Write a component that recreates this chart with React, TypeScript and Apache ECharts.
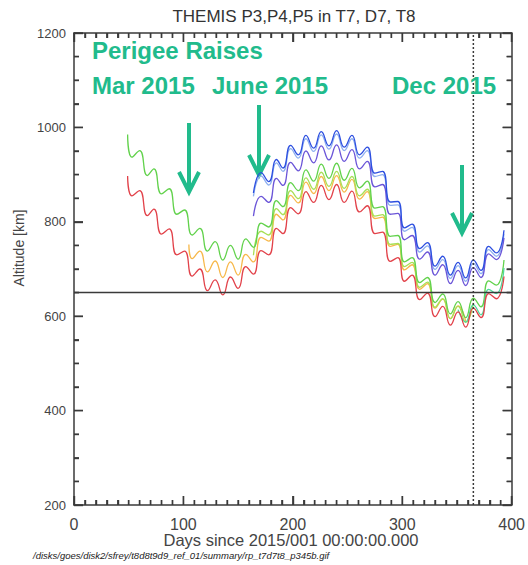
import React, { useEffect, useRef } from "react";
import * as echarts from "echarts";

// Perigee altitude of the THEMIS probes through 2015 (day of year, km)
const xTicks = [0, 100, 200, 300, 400];
const yTicks = [200, 400, 600, 800, 1000, 1200];
const xMinorStep = 10;
const yMinorStep = 50;

const redAlt: [number, number][] = [
  [49, 897], [53, 855], [60, 866], [67, 813], [73, 827], [80, 774], [87, 785], [94, 730], [101, 738],
  [108, 685], [115, 700], [122, 654], [129, 677], [136, 645], [143, 683], [150, 659], [157, 705],
  [164, 689], [171, 739], [178, 730], [185, 786], [191, 775], [198, 830], [205, 817], [212, 864],
  [219, 841], [226, 877], [233, 847], [240, 879], [247, 841], [254, 865], [261, 821], [268, 834],
  [275, 775], [282, 778], [289, 716], [296, 724], [302, 674], [309, 687], [316, 635], [323, 649],
  [330, 599], [337, 621], [344, 581], [351, 609], [358, 577], [365, 617], [372, 597], [379, 648],
  [386, 637], [393, 684],
];

const greenAlt: [number, number][] = [
  [49, 985], [53, 937], [60, 951], [67, 898], [73, 912], [80, 859], [87, 870], [94, 816], [101, 825],
  [108, 772], [115, 786], [122, 738], [129, 758], [136, 719], [143, 750], [150, 721], [157, 764],
  [164, 746], [171, 797], [178, 789], [185, 845], [191, 832], [198, 883], [205, 866], [212, 910],
  [219, 886], [226, 922], [233, 892], [240, 924], [247, 888], [254, 913], [261, 872], [268, 886],
  [275, 829], [282, 832], [289, 769], [296, 771], [302, 715], [309, 724], [316, 671], [323, 682],
  [330, 629], [337, 647], [344, 605], [351, 631], [358, 597], [365, 638], [372, 620], [379, 675],
  [386, 666], [393, 719],
];

const orangeAlt: [number, number][] = [
  [105, 752], [108, 722], [115, 738], [122, 694], [129, 717], [136, 682], [143, 715], [150, 687],
  [157, 731], [164, 715], [171, 767], [178, 759], [185, 816], [191, 804], [198, 856], [205, 840],
  [212, 884], [219, 860], [226, 896], [233, 866], [240, 898], [247, 863], [254, 890], [261, 848],
  [268, 864], [275, 807], [282, 810], [289, 748], [296, 752], [302, 698], [309, 709], [316, 657],
  [323, 669], [330, 617], [337, 636], [344, 595], [351, 622], [358, 589],
];

const limeAlt: [number, number][] = [
  [164, 729], [171, 780], [178, 772], [185, 828], [191, 815], [198, 866], [205, 849], [212, 893],
  [219, 869], [226, 905], [233, 875], [240, 907], [247, 871], [254, 896], [261, 855], [268, 869],
  [275, 812], [282, 815], [289, 752], [296, 754], [302, 705], [309, 714], [316, 661], [323, 672],
  [330, 619], [337, 637], [344, 595], [351, 621], [358, 587], [365, 628],
];

const tealAlt: [number, number][] = [
  [351, 614], [358, 588], [365, 624], [372, 603], [379, 657], [386, 648], [393, 702],
];

const purpleAlt: [number, number][] = [
  [164, 812], [171, 854], [178, 841], [185, 892], [191, 877], [198, 926], [205, 908], [212, 950],
  [219, 925], [226, 961], [233, 931], [240, 963], [247, 928], [254, 953], [261, 912], [268, 928],
  [275, 874], [282, 879], [289, 816], [296, 818], [302, 762], [309, 771], [316, 721], [323, 736],
  [330, 687], [337, 709], [344, 669], [351, 697], [358, 665], [365, 703], [372, 682], [379, 732],
  [386, 720], [393, 766],
];

const blueAlt: [number, number][] = [
  [164, 861], [171, 904], [178, 885], [185, 932], [191, 914], [198, 962], [205, 942], [212, 983],
  [219, 956], [226, 991], [233, 961], [240, 993], [247, 958], [254, 983], [261, 942], [268, 958],
  [275, 903], [282, 907], [289, 842], [296, 843], [302, 787], [309, 795], [316, 743], [323, 756],
  [330, 706], [337, 727], [344, 687], [351, 714], [358, 681], [365, 719], [372, 697], [379, 748],
  [386, 734], [393, 782],
];

const skyAlt: [number, number][] = [
  [164, 854], [171, 897], [178, 878], [185, 925], [191, 907], [198, 955], [205, 935], [212, 976],
  [219, 949], [226, 984], [233, 954], [240, 986], [247, 951], [254, 976], [261, 935], [268, 951],
  [275, 896], [282, 900], [289, 835], [296, 836], [302, 780], [309, 788], [316, 736], [323, 749],
  [330, 699], [337, 720], [344, 680], [351, 707], [358, 674], [365, 712], [372, 690], [379, 741],
  [386, 727], [393, 775],
];

const minAltitude = 650;
const yearEnd = 365;

const AXIS = "#3a3a3a";
const LABEL = "#444";
const NOTE = "#21bb8c";
const FONT = '"Liberation Sans", Arial, sans-serif';

const X0 = xTicks[0];
const X1 = xTicks[xTicks.length - 1];
const Y0 = yTicks[0];
const Y1 = yTicks[yTicks.length - 1];

function wave(name: string, data: [number, number][], color: string) {
  return {
    name,
    type: "line",
    data,
    smooth: 0.5,
    showSymbol: false,
    symbol: "none",
    xAxisIndex: 0,
    yAxisIndex: 0,
    lineStyle: { color, width: 1.3 },
    z: 3,
  };
}

const tickStyle = { color: AXIS, width: 1.4 };

function axisX(position: "top" | "bottom", labels: boolean) {
  return {
    type: "value",
    position,
    min: X0,
    max: X1,
    interval: 100,
    axisLine: { show: true, onZero: false, lineStyle: { color: AXIS, width: 1.5 } },
    axisTick: { show: true, inside: true, length: 9, lineStyle: tickStyle },
    minorTick: { show: true, splitNumber: 10, length: 5, lineStyle: tickStyle },
    splitLine: { show: false },
    axisLabel: {
      show: labels,
      color: LABEL,
      fontSize: 16,
      margin: 11,
      fontFamily: FONT,
      formatter: (v: number) => String(v),
    },
  };
}

function axisY(position: "left" | "right", labels: boolean) {
  return {
    type: "value",
    position,
    min: Y0,
    max: Y1,
    interval: 200,
    axisLine: { show: true, onZero: false, lineStyle: { color: AXIS, width: 1.5 } },
    axisTick: { show: true, inside: true, length: 9, lineStyle: tickStyle },
    minorTick: { show: true, splitNumber: 4, length: 5, lineStyle: tickStyle },
    splitLine: { show: false },
    axisLabel: {
      show: labels,
      color: LABEL,
      fontSize: 13,
      margin: 8,
      fontFamily: FONT,
      formatter: (v: number) => String(v),
    },
  };
}

function arrow(x: number, top: number, tip: number) {
  return {
    type: "group",
    children: [
      {
        type: "line",
        shape: { x1: x, y1: top, x2: x, y2: tip - 2 },
        style: { stroke: NOTE, lineWidth: 4 },
      },
      {
        type: "polyline",
        shape: { points: [[x - 10, tip - 20], [x, tip], [x + 10, tip - 20]] },
        style: { stroke: NOTE, lineWidth: 4, fill: null },
      },
    ],
  };
}

function note(text: string, x: number, y: number) {
  return {
    type: "text",
    x,
    y,
    style: {
      text,
      fill: NOTE,
      fontSize: 24,
      fontWeight: "bold",
      fontFamily: FONT,
      align: "left",
      verticalAlign: "middle",
    },
    z: 10,
  };
}

const labelsAndNotes = [
  {
    type: "text",
    x: 294,
    y: 16,
    style: {
      text: "THEMIS P3,P4,P5 in T7, D7, T8",
      fill: "#333",
      fontSize: 17,
      fontFamily: FONT,
      align: "center",
      verticalAlign: "middle",
    },
  },
  {
    type: "text",
    x: 19,
    y: 248,
    rotation: Math.PI / 2,
    style: {
      text: "Altitude [km]",
      fill: LABEL,
      fontSize: 14,
      fontFamily: FONT,
      align: "center",
      verticalAlign: "middle",
    },
  },
  {
    type: "text",
    x: 291,
    y: 540,
    style: {
      text: "Days since 2015/001 00:00:00.000",
      fill: LABEL,
      fontSize: 16.5,
      fontFamily: FONT,
      align: "center",
      verticalAlign: "middle",
    },
  },
  {
    type: "text",
    x: 33,
    y: 555,
    style: {
      text: "/disks/goes/disk2/sfrey/t8d8t9d9_ref_01/summary/rp_t7d7t8_p345b.gif",
      fill: "#222",
      fontSize: 9.5,
      fontStyle: "italic",
      fontFamily: FONT,
      align: "left",
      verticalAlign: "middle",
    },
  },
  note("Perigee Raises", 92, 50),
  note("Mar 2015", 92, 85),
  note("June 2015", 212, 85),
  note("Dec 2015", 392, 85),
  arrow(189, 123, 192),
  arrow(259, 105, 175),
  arrow(462, 165, 233),
];

const option = {
  animation: false,
  backgroundColor: "#ffffff",
  grid: { left: 74, right: 14, top: 33, bottom: 60, containLabel: false },
  xAxis: [axisX("bottom", true), axisX("top", false)],
  yAxis: [axisY("left", true), axisY("right", false)],
  series: [
    wave("P5 (T8)", skyAlt, "#8fb0f0"),
    wave("P5", purpleAlt, "#6b55d8"),
    wave("P4", blueAlt, "#2d4fe0"),
    wave("P3 (T7)", orangeAlt, "#f7b84a"),
    wave("P3 (D7)", limeAlt, "#a8df55"),
    wave("P4 (D7)", greenAlt, "#62d24c"),
    wave("P3 (T8)", tealAlt, "#4fd89c"),
    wave("P3", redAlt, "#e2424a"),
    {
      name: "minimum",
      type: "line",
      data: [[X0, minAltitude], [X1, minAltitude]],
      showSymbol: false,
      symbol: "none",
      lineStyle: { color: AXIS, width: 1.5 },
      z: 4,
    },
    {
      name: "year end",
      type: "line",
      data: [[yearEnd, Y0], [yearEnd, Y1]],
      showSymbol: false,
      symbol: "none",
      lineStyle: { color: AXIS, width: 1.5, type: [2, 2] },
      z: 4,
    },
  ],
  graphic: labelsAndNotes,
};

// inward tick marks on all four frame sides, placed through the chart's own scales
function tickGraphics(chart: echarts.ECharts) {
  const px = (x: number, y: number) => chart.convertToPixel({ gridIndex: 0 }, [x, y]) as number[];
  const out: any[] = [];
  const seg = (x1: number, y1: number, x2: number, y2: number) =>
    out.push({
      type: "line",
      shape: { x1, y1, x2, y2 },
      style: { stroke: AXIS, lineWidth: 1.4 },
      z: 20,
    });
  for (let v = X0; v <= X1; v += xMinorStep) {
    const len = xTicks.includes(v) ? 9 : 5;
    const b = px(v, Y0);
    const t = px(v, Y1);
    seg(b[0], b[1], b[0], b[1] - len);
    seg(t[0], t[1], t[0], t[1] + len);
  }
  for (let v = Y0; v <= Y1; v += yMinorStep) {
    const len = yTicks.includes(v) ? 9 : 5;
    const l = px(X0, v);
    const r = px(X1, v);
    seg(l[0], l[1], l[0] + len, l[1]);
    seg(r[0], r[1], r[0] - len, r[1]);
  }
  return out;
}

export default function App() {
  const ref = useRef<HTMLDivElement>(null);
  useEffect(() => {
    document.body.style.margin = "0";
    const chart = echarts.init(ref.current!, null, { renderer: "svg" });
    chart.setOption(option as any);
    chart.setOption({ graphic: [...labelsAndNotes, ...tickGraphics(chart)] } as any);
    return () => chart.dispose();
  }, []);
  return <div ref={ref} style={{ width: 528, height: 565 }} />;
}
